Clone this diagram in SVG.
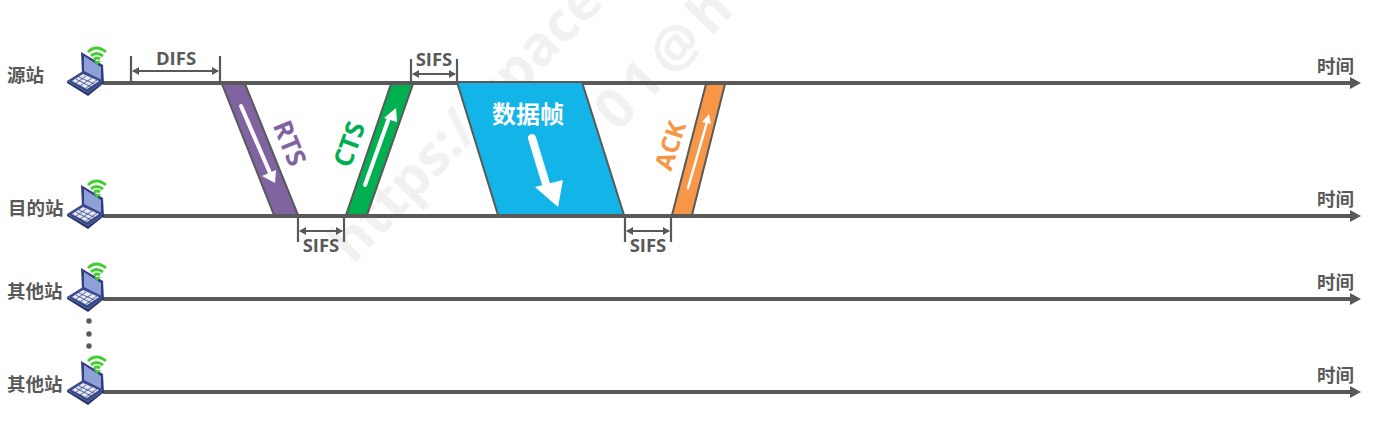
<svg xmlns="http://www.w3.org/2000/svg" width="1378" height="423" viewBox="0 0 1378 423">
<style>
text{font-family:"Open Sans","Noto Sans CJK SC",sans-serif;font-weight:700}
.l{fill:#595959;font-size:18.500px;font-family:"Noto Sans CJK SC",sans-serif}
.s{fill:#595959;font-size:18.500px;text-anchor:middle}
.ax{stroke:#595959;stroke-width:4;fill:none}
.tick{stroke:#595959;stroke-width:2.200;fill:none}
.dim{stroke:#595959;stroke-width:2.200;fill:none;marker-start:url(#d);marker-end:url(#d)}
.fr{stroke:#595959;stroke-width:2}
.wa{stroke:#fff;fill:none;stroke-linecap:round}
.wm{fill:#f1f1f1;font-size:55px;font-family:"Open Sans",sans-serif;font-weight:700}
</style>
<defs>
<marker id="d" markerWidth="8" markerHeight="10" refX="6" refY="4" orient="auto-start-reverse" markerUnits="userSpaceOnUse"><path d="M0 0L7 4L0 8z" fill="#595959"/></marker>
<g id="pc">
<path d="M15 -27L37 -14L38 5L16 -6z" fill="#2f3f7f"/>
<path d="M18 -23L35 -12L35 1L18 -8z" fill="#8f9fd8"/>
<path d="M1 2L17 -8L38 2L22 14z" fill="#3a4b8c"/>
<path d="M6 2L17 -5L33 2L21 10z" fill="#e4e8f6"/>
<path d="M1 2L22 14L38 2L38 4L22 17L1 4z" fill="#25346e"/>
<path d="M10 0L25 8M13 -2L28 5M9 5L20 -3M14 7L26 -1M20 9L31 1" stroke="#33447f" stroke-width="0.800" fill="none"/>
<path d="M22 -27Q30 -35 40 -27M25 -23Q30 -28 37 -23M28 -20Q31 -22 34 -20" stroke="#3fcf2f" stroke-width="2.800" fill="none"/>
<path d="M28 -18L35 -18L31 -14z" fill="#3fcf2f"/>
</g>
</defs>
<g id="watermark">
<text class="wm" transform="translate(353 265) rotate(-46)">https://space.</text>
<text class="wm" letter-spacing="7" transform="translate(618 133) rotate(-46)">01@h</text>
</g>
<g id="connectors">
<path class="ax" d="M103 83H1352"/><path d="M1350 77L1361 83L1350 89z" fill="#595959"/>
<path class="ax" d="M103 216H1352"/><path d="M1350 210L1361 216L1350 222z" fill="#595959"/>
<path class="ax" d="M103 299H1352"/><path d="M1350 293L1361 299L1350 305z" fill="#595959"/>
<path class="ax" d="M103 392H1352"/><path d="M1350 386L1361 392L1350 398z" fill="#595959"/>
<path class="tick" d="M131 56V83M220 56V83"/><path class="dim" d="M133 71H218"/>
<path class="tick" d="M411 59V83M457 59V83"/><path class="dim" d="M413 74H455"/>
<path class="tick" d="M298 216V242M344 216V242"/><path class="dim" d="M300 231H342"/>
<path class="tick" d="M625 216V242M671 216V242"/><path class="dim" d="M627 231H669"/>
</g>
<g id="rts"><path class="fr" d="M222 84H245L298 215H274z" fill="#8064a2"/><path class="wa" stroke-width="4" d="M241 106L270 173"/><path d="M262 176L276 170L275 183z" fill="#fff"/><text transform="translate(272.500 125) rotate(68)" font-size="26" fill="#8064a2">RTS</text></g>
<g id="cts"><path class="fr" d="M391 84H413L367 215H346z" fill="#00b050"/><path class="wa" stroke-width="4" d="M365 185L389 118"/><path d="M384 118L397 122L396 108z" fill="#fff"/><text transform="translate(350 169) rotate(-70)" font-size="26" fill="#00b050">CTS</text></g>
<g id="data"><path class="fr" d="M457 82H582L624 215H498z" fill="#13b4e8"/><text x="528" y="123" font-size="24" text-anchor="middle" fill="#fff" font-family="Noto Sans CJK SC,sans-serif">数据帧</text><path class="wa" stroke-width="8" d="M532 138L546 184"/><path d="M535 187L563 180L558 207z" fill="#fff"/></g>
<g id="ack"><path class="fr" d="M706 84H725L692 215H672z" fill="#f79646"/><path class="wa" stroke-width="2.500" d="M688 188L707 122"/><path d="M702 122L711 124L709 114z" fill="#fff"/><text transform="translate(671 172) rotate(-72)" font-size="25" fill="#f79646">ACK</text></g>
<g id="n1"><use href="#pc" x="66" y="79"/><text class="l" x="7" y="82">源站</text></g>
<g id="n2"><use href="#pc" x="66" y="212"/><text class="l" x="8" y="215">目的站</text></g>
<g id="n3"><use href="#pc" x="66" y="295"/><text class="l" x="7" y="298">其他站</text></g>
<g id="n4"><use href="#pc" x="66" y="388"/><text class="l" x="7" y="391">其他站</text></g>
<g id="dots" fill="#595959"><circle cx="89" cy="321" r="2.700"/><circle cx="89" cy="334" r="2.700"/><circle cx="89" cy="346" r="2.700"/></g>
<g id="labels">
<text class="s" x="176" y="64.500">DIFS</text><text class="s" x="434" y="66">SIFS</text><text class="s" x="321" y="252">SIFS</text><text class="s" x="648" y="252">SIFS</text>
<text class="l" x="1317" y="73">时间</text><text class="l" x="1317" y="206">时间</text><text class="l" x="1317" y="289">时间</text><text class="l" x="1317" y="382">时间</text>
</g>
</svg>
